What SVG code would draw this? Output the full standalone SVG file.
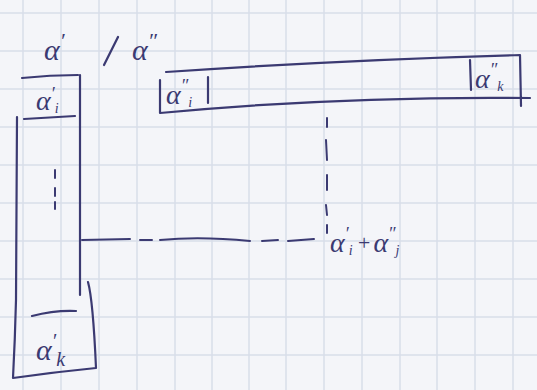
<svg xmlns="http://www.w3.org/2000/svg" width="537" height="390" viewBox="0 0 537 390">
<defs>
<style>
.grid line{stroke:#d9dee8;stroke-width:1.5}
.ink{fill:none;stroke:#3b3a72;stroke-width:2.2;stroke-linecap:round;stroke-linejoin:round}
.dash{fill:none;stroke:#3b3a72;stroke-width:2;stroke-linecap:round}
.t{font-family:"Liberation Serif","DejaVu Serif",serif;font-style:italic;fill:#3b3a72}
</style>
</defs>
<rect width="537" height="390" fill="#f4f5f9"/>
<g class="grid">
<line x1="23" y1="0" x2="23" y2="390"/><line x1="61" y1="0" x2="61" y2="390"/><line x1="99" y1="0" x2="99" y2="390"/><line x1="137" y1="0" x2="137" y2="390"/><line x1="175" y1="0" x2="175" y2="390"/><line x1="212" y1="0" x2="212" y2="390"/><line x1="249" y1="0" x2="249" y2="390"/><line x1="286" y1="0" x2="286" y2="390"/><line x1="324" y1="0" x2="324" y2="390"/><line x1="362" y1="0" x2="362" y2="390"/><line x1="400" y1="0" x2="400" y2="390"/><line x1="437" y1="0" x2="437" y2="390"/><line x1="475" y1="0" x2="475" y2="390"/><line x1="513" y1="0" x2="513" y2="390"/>
<line x1="0" y1="13" x2="537" y2="13"/><line x1="0" y1="51" x2="537" y2="51"/><line x1="0" y1="89" x2="537" y2="89"/><line x1="0" y1="127" x2="537" y2="127"/><line x1="0" y1="165" x2="537" y2="165"/><line x1="0" y1="203" x2="537" y2="203"/><line x1="0" y1="241" x2="537" y2="241"/><line x1="0" y1="279" x2="537" y2="279"/><line x1="0" y1="317" x2="537" y2="317"/><line x1="0" y1="355" x2="537" y2="355"/>
</g>
<g id="title">
<text class="t" x="44" y="60" font-size="30">α<tspan font-size="22" dy="-12">′</tspan></text>
<path class="ink" d="M104 65 L118 37"/>
<text class="t" x="132" y="60" font-size="30">α<tspan font-size="22" dy="-12">″</tspan></text>
</g>
<g id="column-vector">
<path class="ink" d="M22 78 Q50 75 78 75 M80 75 L80 295 M24 119 L75 116 M17 117 L16 300 Q15 340 13 378 Q55 372 96 368 M88 282 Q93 300 96 368 M32 316 Q55 310 76 311"/>
<path class="dash" d="M55 170 L55 178 M55 188 L55 196 M55 202 L55 209"/>
<text class="t" x="36" y="110" font-size="28">α<tspan font-size="18" dy="-10">′</tspan><tspan font-size="14" dy="13">i</tspan></text>
<text class="t" x="36" y="360" font-size="30">α<tspan font-size="20" dy="-12">′</tspan><tspan font-size="20" dy="18">k</tspan></text>
</g>
<g id="row-vector">
<path class="ink" d="M160 113 Q340 96 530 98 M160 80 L160 113 M166 72 Q340 60 520 55 M520 55 L521 106 M208 77 L208 103 M470 60 L471 90"/>
<text class="t" x="166" y="104" font-size="28">α<tspan font-size="18" dy="-12">″</tspan><tspan font-size="14" dy="15">i</tspan></text>
<text class="t" x="475" y="88" font-size="28">α<tspan font-size="18" dy="-12">″</tspan><tspan font-size="14" dy="15">k</tspan></text>
</g>
<g id="connectors">
<path class="dash" d="M82 240 L130 239 M140 240 L152 240 M160 240 Q200 236 250 241 M262 241 L278 240 M288 241 L314 239"/>
<path class="dash" d="M327 118 L327 127 M326 140 L327 160 M327 175 L327 190 M326 205 L327 215 M327 225 L327 233"/>
</g>
<g id="result">
<text class="t" x="330" y="252" font-size="28">α<tspan font-size="18" dy="-12">′</tspan><tspan font-size="14" dy="15">i</tspan><tspan font-size="22" dx="4" dy="-5">+</tspan><tspan font-size="28" dx="2" dy="2">α</tspan><tspan font-size="18" dy="-12">″</tspan><tspan font-size="14" dy="15">j</tspan></text>
</g>
</svg>
